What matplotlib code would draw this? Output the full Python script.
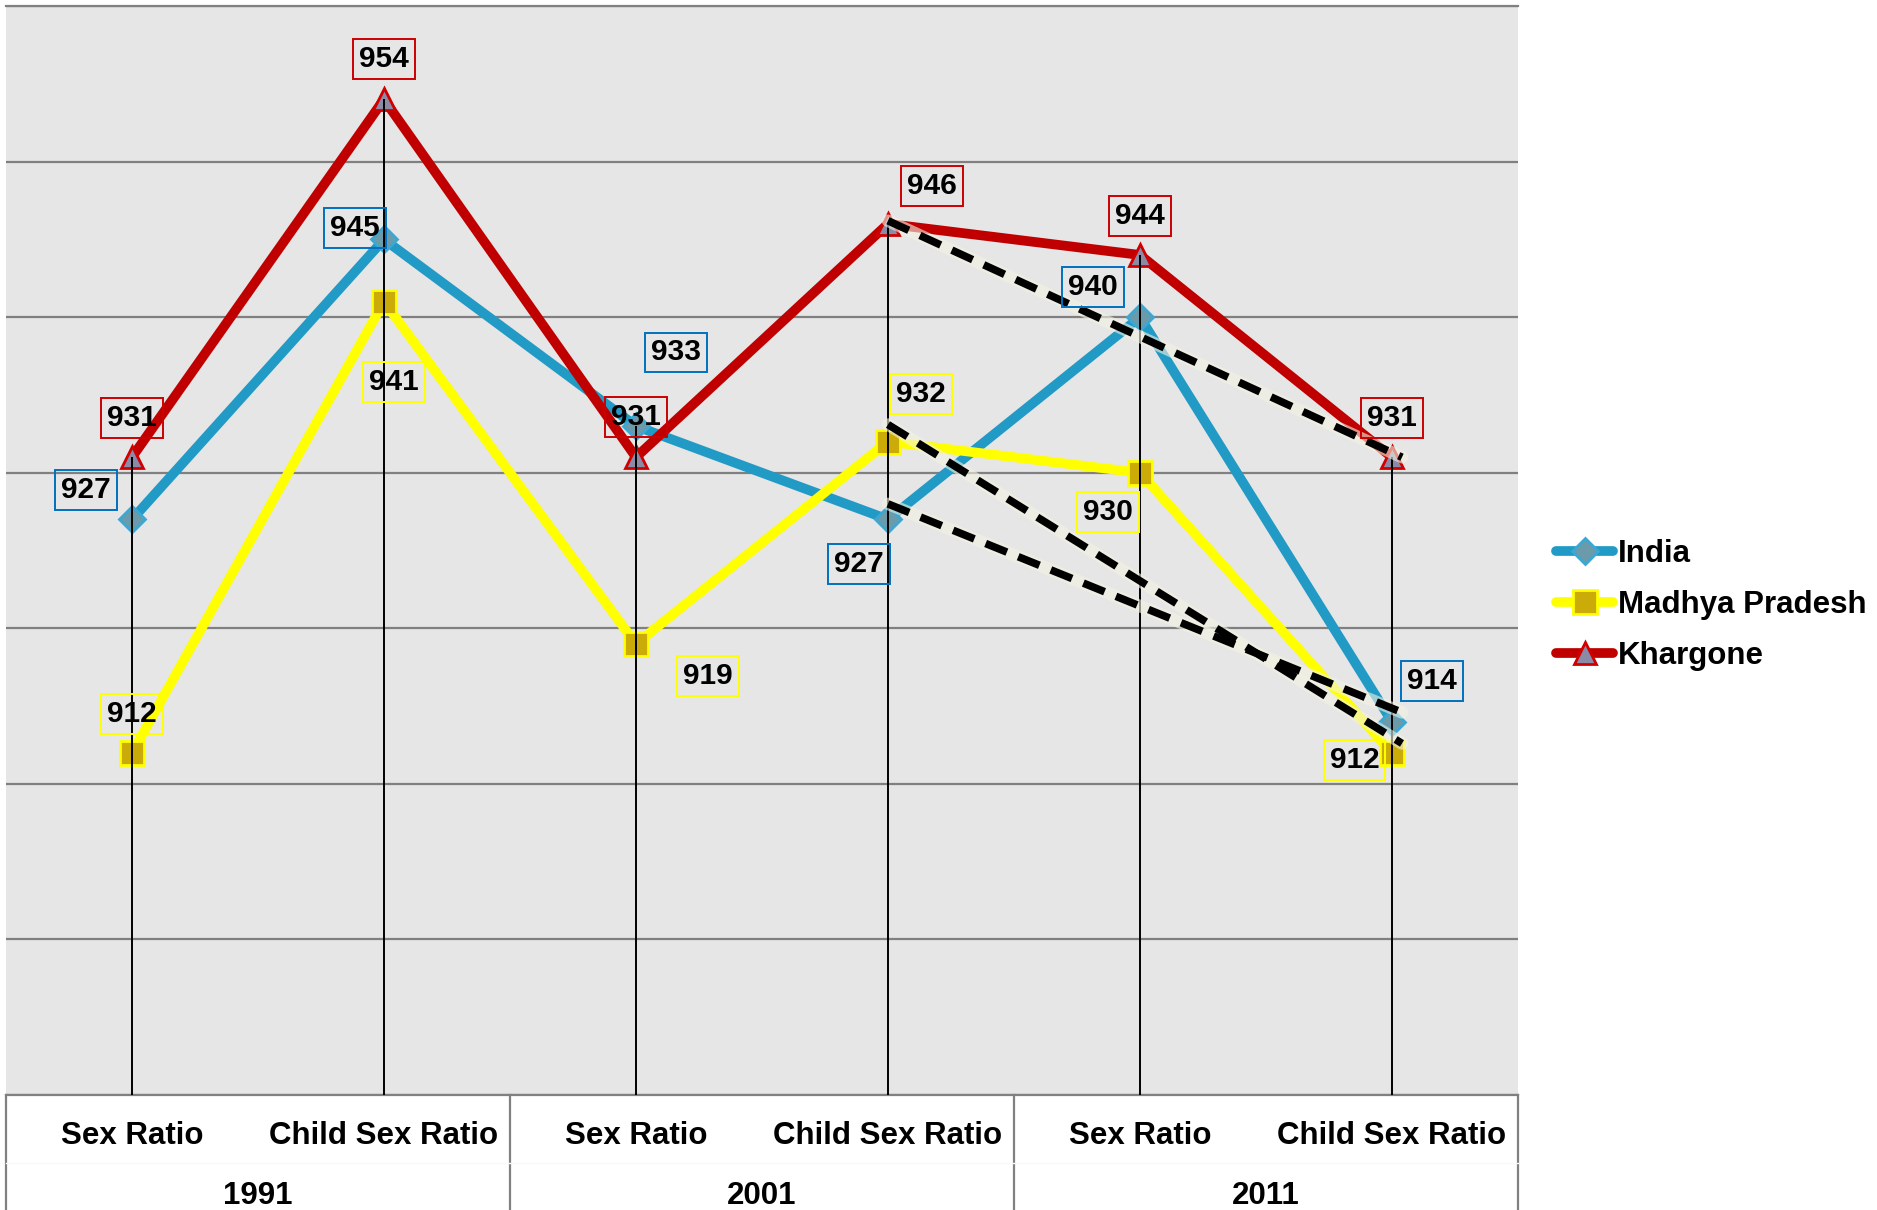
import matplotlib.pyplot as plt
from matplotlib import rcParams

rcParams.update({'font.family': ['Liberation Sans', 'DejaVu Sans'], 'font.weight': 'bold'})

categories = ["Sex Ratio", "Child Sex Ratio", "Sex Ratio", "Child Sex Ratio", "Sex Ratio", "Child Sex Ratio"]
years = ["1991", "2001", "2011"]

india = [927, 945, 933, 927, 940, 914]
madhya_pradesh = [912, 941, 919, 932, 930, 912]
khargone = [931, 954, 931, 946, 944, 931]

# hand drawn dashed lines, 2001 child sex ratio -> 2011 child sex ratio
trend_x = [3, 5.04]
trend_khargone = [946.2, 931.0]
trend_mp = [933.1, 912.6]
trend_india = [928.0, 914.6]

# label offsets (points) for each data label
india_off = [(-33, 21), (-21, 8), (29, 53), (-21, -32), (-34, 22), (29, 29)]
mp_off = [(0, 28), (7, -58), (52, -23), (24, 34), (-23, -28), (-27, -5)]
khargone_off = [(0, 28), (0, 29), (0, 29), (32, 27), (0, 28), (0, 28)]

series = [
    ("India", india, india_off, '#219ac5', 'D', 13, '#6b9aab', '#3aa8d2', '#0070c0'),
    ("Madhya Pradesh", madhya_pradesh, mp_off, '#ffff00', 's', 17, '#cbab08', '#ffff00', '#ffff00'),
    ("Khargone", khargone, khargone_off, '#c00000', '^', 16.5, '#8b8aa7', '#d00000', '#cc0000'),
]

fig = plt.figure(figsize=(18.77, 12.10), dpi=100)
ax = fig.add_axes([0.0032, 0.095, 0.8055, 0.9])
ax.set_facecolor('#e6e6e6')

x = list(range(len(categories)))
handles = []
for i, (name, vals, offs, col, mk, ms, mfc, mec, boxcol) in enumerate(series):
    ln, = ax.plot(x, vals, color=col, lw=7, marker=mk, markersize=ms,
                  markerfacecolor=mfc, markeredgecolor=mec, markeredgewidth=2,
                  solid_capstyle='round', zorder=3 + i, label=name)
    handles.append(ln)
    for xi, v, (dx, dy) in zip(x, vals, offs):
        ax.annotate(str(v), (xi, v), xytext=(dx, dy), textcoords='offset points',
                    ha='center', va='center', fontsize=21.5, fontweight='bold',
                    bbox=dict(boxstyle='square,pad=0.2', fc='none', ec=boxcol, lw=1.4),
                    zorder=9)

# drop lines from the highest point
tops = [max(a, b, c) for a, b, c in zip(india, madhya_pradesh, khargone)]
ax.vlines(x, 890, tops, color='black', lw=1.4, zorder=7)

for ys in [trend_khargone, trend_mp, trend_india]:
    ax.plot(trend_x, ys, color='#f3f3e2', lw=9, alpha=0.6, solid_capstyle='round', zorder=7)
    ax.plot(trend_x, ys, color='black', lw=5.5, dashes=(3, 1.6), dash_capstyle='butt', zorder=8)

ax.set_xlim(-0.5, 5.5)
ax.set_ylim(890, 960)
ax.set_yticks(range(890, 961, 10))
ax.set_xticks([])
ax.tick_params(left=False, labelleft=False)
ax.grid(axis='y', color='#808080', lw=1.6)
ax.set_axisbelow(True)
for s in ['left', 'right']:
    ax.spines[s].set_visible(False)
ax.spines['top'].set_color('#808080')
ax.spines['top'].set_linewidth(1.6)
ax.spines['bottom'].set_color('#808080')
ax.spines['bottom'].set_linewidth(1.6)

# multi level category axis
trans = ax.get_xaxis_transform()
for bx in [-0.5, 1.5, 3.5, 5.5]:
    ax.plot([bx, bx], [0, -0.12], transform=trans, clip_on=False, color='#808080', lw=1.6)
ax.plot([-0.5, 5.5], [-0.0624, -0.0624], transform=trans, clip_on=False, color='#f9f9f9', lw=1)
for xi, cat in zip(x, categories):
    ax.text(xi, -0.045, cat, transform=trans, ha='center', va='baseline', fontsize=22.5, clip_on=False)
for k, yr in enumerate(years):
    ax.text(2 * k + 0.5, -0.1001, yr, transform=trans, ha='center', va='baseline', fontsize=22.5, clip_on=False)

fig.legend(handles=handles, loc='center left', bbox_to_anchor=(0.829, 0.500), frameon=False,
           fontsize=22.5, handlelength=1.83, handletextpad=0.15, labelspacing=0.66,
           borderpad=0, borderaxespad=0)

fig.savefig('out.png', dpi=100)
